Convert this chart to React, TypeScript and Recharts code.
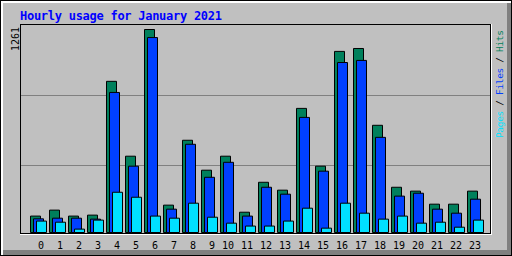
import { BarChart, Bar, XAxis, YAxis } from "recharts";

// --- data ---
const hours = ["0", "1", "2", "3", "4", "5", "6", "7", "8", "9", "10", "11", "12", "13", "14", "15", "16", "17", "18", "19", "20", "21", "22", "23"];
const hits = [102, 139, 102, 108, 939, 474, 1261, 170, 573, 387, 474, 126, 312, 263, 771, 412, 1125, 1143, 666, 281, 257, 176, 176, 257];
const files = [85, 89, 89, 83, 870, 412, 1211, 145, 548, 343, 436, 102, 281, 238, 715, 381, 1056, 1069, 591, 226, 244, 145, 120, 207];
const pages = [71, 64, 21, 77, 250, 219, 102, 89, 182, 95, 58, 40, 40, 71, 151, 27, 182, 120, 83, 102, 58, 64, 33, 77];
const maxValue = 1261;

const HIT = "#00805c";
const FILE = "#0040ff";
const PAGE = "#00e0ff";
const MONO = "'DejaVu Sans Mono', monospace";

const data = hours.map((h, i) => ({ hour: h, hits: hits[i], files: files[i], pages: pages[i] }));

function HourTick(props: any) {
  const { x, y, payload } = props;
  const single = String(payload.value).length < 2;
  return (
    <text x={x + (single ? 3 : 0)} y={y + 16} textAnchor="middle" fontFamily={MONO} fontSize={10} fill="#000">
      {payload.value}
    </text>
  );
}

// background: outer bevel, inner frame, grid lines and labels
function Frame() {
  return (
    <svg width={512} height={256} style={{ position: "absolute", left: 0, top: 0 }}>
      <rect x={0} y={0} width={512} height={256} fill="#000" />
      <rect x={1} y={1} width={510} height={254} fill="#fff" />
      <rect x={3} y={3} width={508} height={252} fill="#808080" />
      <rect x={3} y={3} width={504} height={247} fill="#c0c0c0" />
      <rect x={20} y={24} width={472} height={211} fill="#fff" />
      <rect x={20} y={24} width={471} height={210} fill="#000" />
      <rect x={21} y={25} width={469} height={208} fill="#c0c0c0" />
      <line x1={21} x2={490} y1={95.5} y2={95.5} stroke="#808080" />
      <line x1={21} x2={490} y1={165.5} y2={165.5} stroke="#808080" />
      <text x={20} y={19.5} fontFamily={MONO} fontWeight="bold" fontSize={12} fill="#0000ff" textLength={202} lengthAdjust="spacing">
        Hourly usage for January 2021
      </text>
      <text transform="translate(19,51) rotate(-90)" fontFamily={MONO} fontSize={10} fill="#000" textLength={24} lengthAdjust="spacing">
        {maxValue}
      </text>
      <text transform="translate(503,138) rotate(-90)" fontFamily={MONO} fontSize={9.5} textLength={108} lengthAdjust="spacing">
        <tspan fill={PAGE}>Pages</tspan>
        <tspan fill="#000"> / </tspan>
        <tspan fill={FILE}>Files</tspan>
        <tspan fill="#000"> / </tspan>
        <tspan fill={HIT}>Hits</tspan>
      </text>
    </svg>
  );
}

export default function App() {
  return (
    <div style={{ position: "absolute", left: 0, top: 0, width: 512, height: 256 }}>
      <Frame />
      <div style={{ position: "absolute", left: 0, top: 0 }}>
        <BarChart
          width={512}
          height={256}
          data={data}
          margin={{ top: 29.5, right: 27.5, bottom: 3.5, left: 28.5 }}
          barSize={10}
          barGap={-7}
        >
          <XAxis
            dataKey="hour"
            height={20}
            axisLine={false}
            tickLine={false}
            tickSize={0}
            tickMargin={0}
            interval={0}
            tick={<HourTick />}
          />
          <YAxis hide domain={[0, maxValue]} />
          <Bar dataKey="hits" fill={HIT} stroke="#000" strokeWidth={1} isAnimationActive={false} />
          <Bar dataKey="files" fill={FILE} stroke="#000" strokeWidth={1} isAnimationActive={false} />
          <Bar dataKey="pages" fill={PAGE} stroke="#000" strokeWidth={1} isAnimationActive={false} />
        </BarChart>
      </div>
    </div>
  );
}
